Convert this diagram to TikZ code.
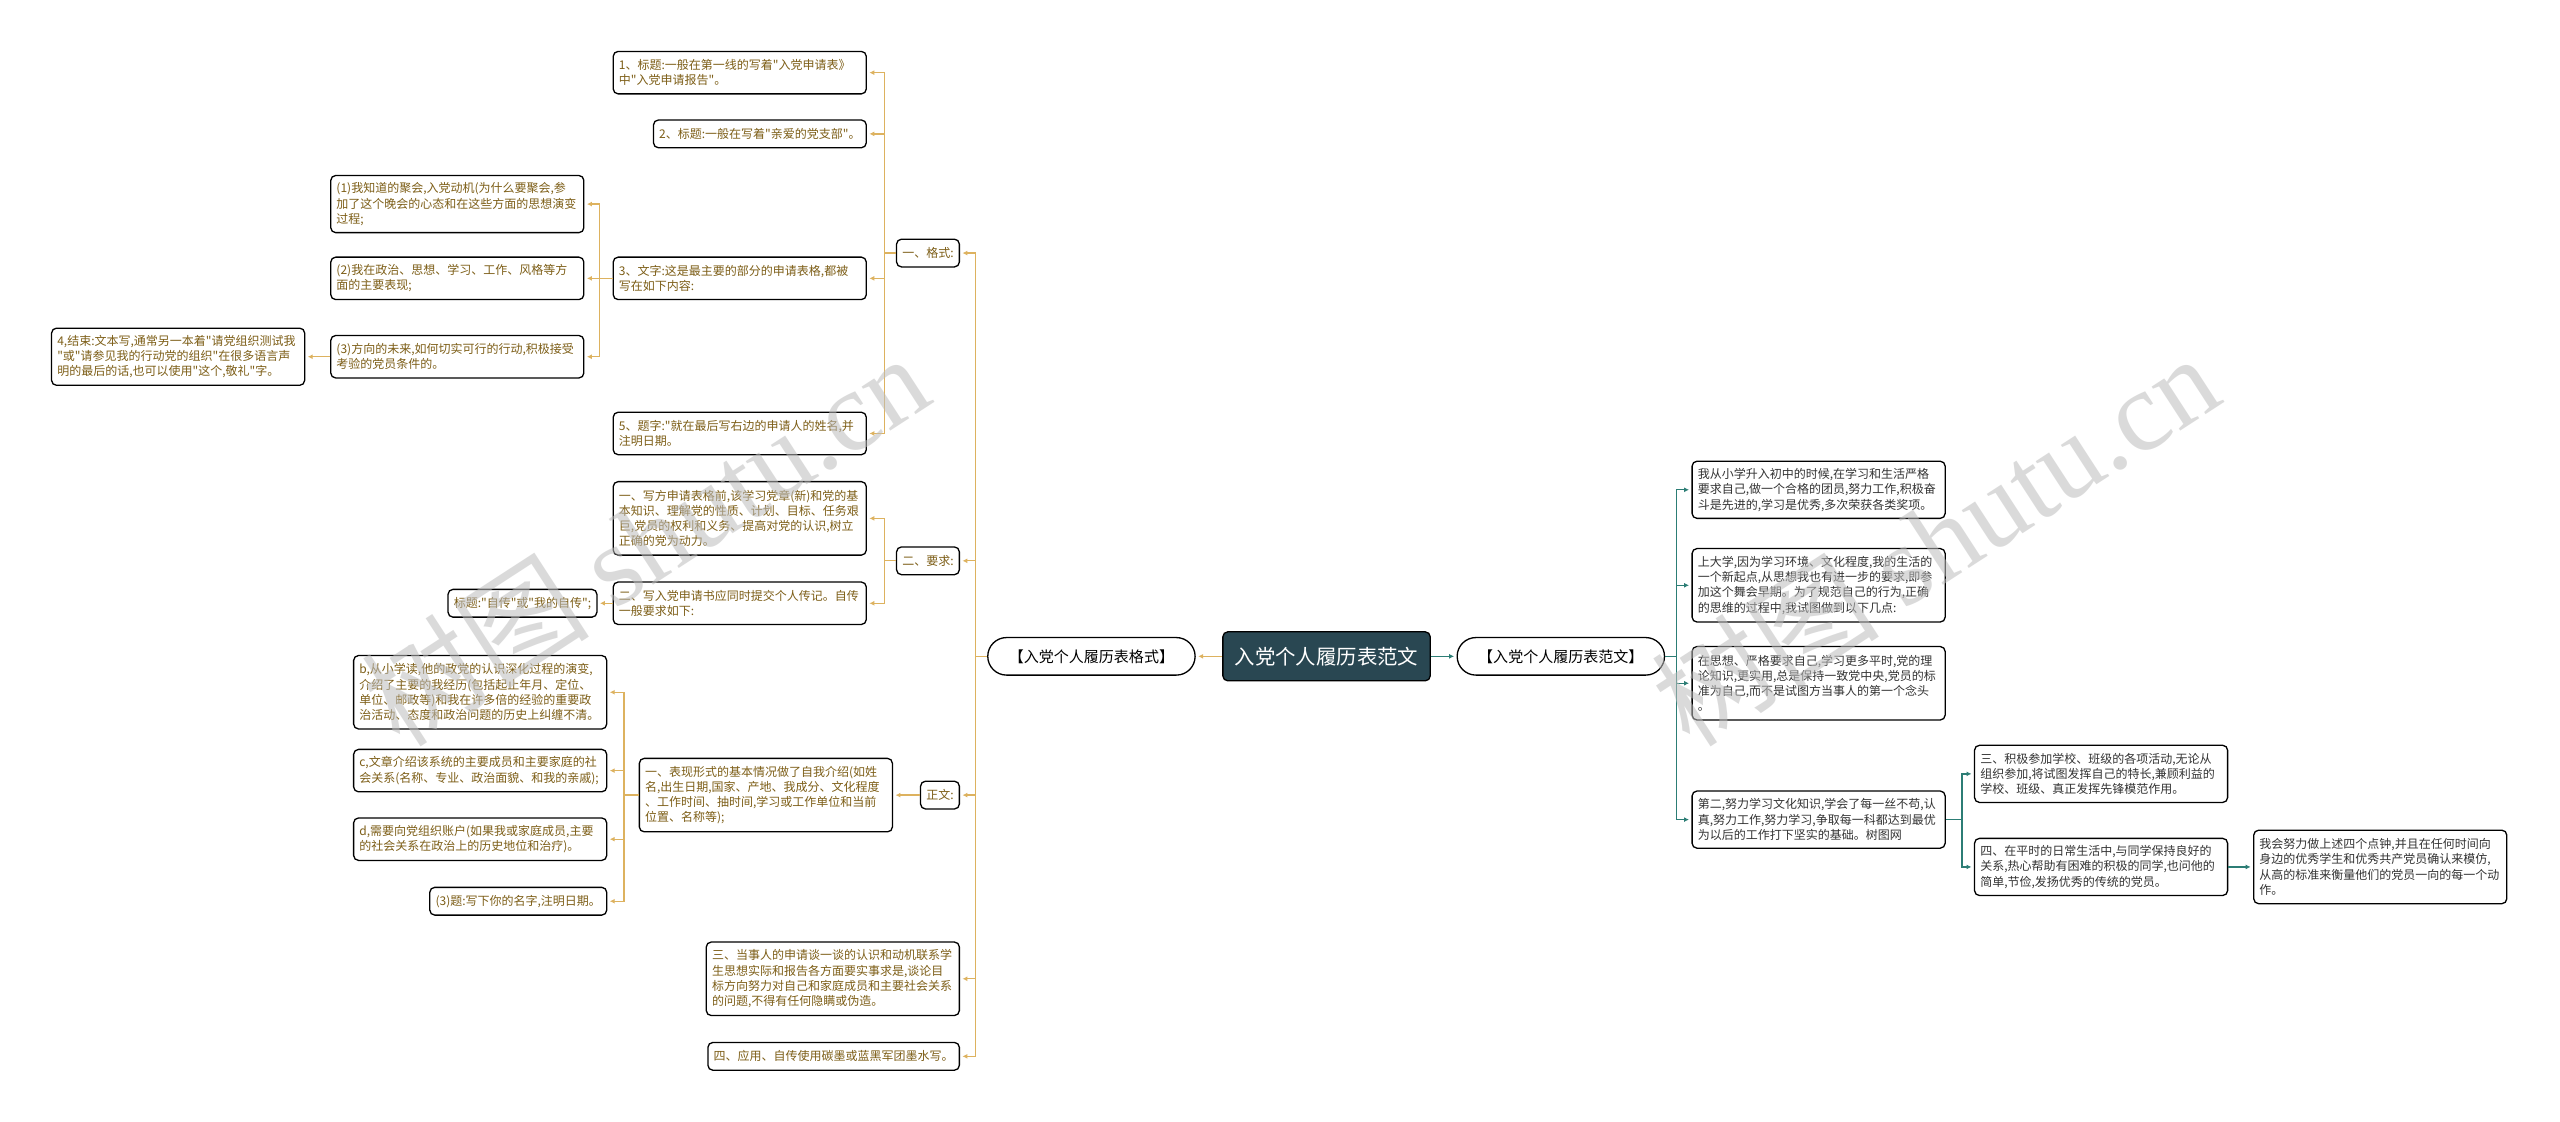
\documentclass[tikz,border=0pt]{standalone}
\usepackage{fontspec}
\setmainfont{Noto Sans CJK SC}[Ligatures=TeXOff]
\newfontfamily\wmlatin{Liberation Serif}
\usetikzlibrary{arrows.meta}
\definecolor{gold}{HTML}{DDB25F}
\definecolor{brownt}{HTML}{7D5E17}
\definecolor{tealc}{HTML}{2C7D75}
\definecolor{darkt}{HTML}{333333}
\definecolor{rootf}{HTML}{294752}
\definecolor{wmc}{HTML}{BDBDBD}
\begin{document}
\begin{tikzpicture}[x=1pt,y=-1pt,
  base/.style={draw=black, line width=0.8pt, rounded corners=3pt, fill=white, inner xsep=3.5pt, inner ysep=1pt, align=left, font=\fontsize{7.35pt}{9.35pt}\selectfont},
  lb/.style={base, text=brownt, anchor=east},
  rb/.style={base, text=darkt, anchor=west},
  tw/.style={text width=148pt},
  pill/.style={draw=black, line width=0.8pt, fill=white, rounded corners=11.5pt, minimum width=127pt, minimum height=23pt, inner sep=0pt, font=\fontsize{9.2pt}{11pt}\selectfont},
  rootn/.style={draw=black, line width=0.8pt, fill=rootf, text=white, rounded corners=3pt, minimum width=127pt, minimum height=30pt, inner sep=0pt, font=\fontsize{12.5pt}{14pt}\selectfont},
  gl/.style={draw=gold, line width=0.8pt, -{Latex[length=3pt,width=3pt]}, shorten >=1.5pt},
  tl/.style={draw=tealc, line width=0.8pt, -{Latex[length=3pt,width=3pt]}, shorten >=1.5pt},
  wmark/.style={text=wmc, opacity=0.55, rotate=33, inner sep=0pt, font=\fontsize{70pt}{70pt}\selectfont}
]
\useasboundingbox[fill=white] (0,0) rectangle (1568,687);

% root and main branches
\node[rootn] (root) at (812.5,402) {入党个人履历表范文};
\node[pill] (lp) at (668.5,402) {【入党个人履历表格式】};
\node[pill] (rp) at (956,402) {【入党个人履历表范文】};

% left side, level 1
\node[lb, minimum height=17pt] (g1) at (588,155) {一、格式:};
\node[lb, minimum height=17pt] (g2) at (588,343.5) {二、要求:};
\node[lb, minimum height=17pt] (g3) at (588,487) {正文:};
\node[lb, tw, minimum height=45pt] (g4) at (588,599.5) {三、当事人的申请谈一谈的认识和动机联系学\\生思想实际和报告各方面要实事求是,谈论目\\标方向努力对自己和家庭成员和主要社会关系\\的问题,不得有任何隐瞒或伪造。};
\node[lb, minimum height=17pt] (g5) at (588,647) {四、应用、自传使用碳墨或蓝黑军团墨水写。};

% 一、格式 children
\node[lb, tw, minimum height=26pt] (n1) at (531,44.5) {1、标题:一般在第一线的写着"入党申请表》\\中"入党申请报告"。};
\node[lb, minimum height=17pt] (n2) at (531,82) {2、标题:一般在写着"亲爱的党支部"。};
\node[lb, tw, minimum height=26pt] (n3) at (531,170.5) {3、文字:这是最主要的部分的申请表格,都被\\写在如下内容:};
\node[lb, tw, minimum height=26pt] (n5) at (531,265.5) {5、题字:"就在最后写右边的申请人的姓名,并\\注明日期。};

\node[lb, tw, minimum height=35pt] (n31) at (358,125) {(1)我知道的聚会,入党动机(为什么要聚会,参\\加了这个晚会的心态和在这些方面的思想演变\\过程;};
\node[lb, tw, minimum height=26pt] (n32) at (358,170.5) {(2)我在政治、思想、学习、工作、风格等方\\面的主要表现;};
\node[lb, tw, minimum height=26pt] (n33) at (358,218.5) {(3)方向的未来,如何切实可行的行动,积极接受\\考验的党员条件的。};
\node[lb, tw, minimum height=35pt] (n331) at (187,218.5) {4,结束:文本写,通常另一本着"请党组织测试我\\"或"请参见我的行动党的组织"在很多语言声\\明的最后的话,也可以使用"这个,敬礼"字。};

% 二、要求 children
\node[lb, tw, minimum height=45pt] (r1) at (531,317.5) {一、写方申请表格前,该学习党章(新)和党的基\\本知识、理解党的性质、计划、目标、任务艰\\巨,党员的权利和义务、提高对党的认识,树立\\正确的党为动力。};
\node[lb, tw, minimum height=26pt] (r2) at (531,369.5) {二、写入党申请书应同时提交个人传记。自传\\一般要求如下:};
\node[lb, minimum height=17pt] (r21) at (366,369.5) {标题:"自传"或"我的自传";};

% 正文 children
\node[lb, tw, minimum height=45pt] (z1) at (547,487) {一、表现形式的基本情况做了自我介绍(如姓\\名,出生日期,国家、产地、我成分、文化程度\\、工作时间、抽时间,学习或工作单位和当前\\位置、名称等);};
\node[lb, tw, minimum height=45pt] (zb) at (372,424) {b,从小学读,他的政党的认识深化过程的演变,\\介绍了主要的我经历(包括起止年月、定位、\\单位、邮政等)和我在许多倍的经验的重要政\\治活动、态度和政治问题的历史上纠缠不清。};
\node[lb, tw, minimum height=26pt] (zc) at (372,472) {c,文章介绍该系统的主要成员和主要家庭的社\\会关系(名称、专业、政治面貌、和我的亲戚);};
\node[lb, tw, minimum height=26pt] (zd) at (372,514) {d,需要向党组织账户(如果我或家庭成员,主要\\的社会关系在政治上的历史地位和治疗)。};
\node[lb, minimum height=17pt] (ze) at (372,552) {(3)题:写下你的名字,注明日期。};

% right side
\node[rb, tw, minimum height=35pt] (ra) at (1036,300) {我从小学升入初中的时候,在学习和生活严格\\要求自己,做一个合格的团员,努力工作,积极奋\\斗是先进的,学习是优秀,多次荣获各类奖项。};
\node[rb, tw, minimum height=45pt] (rbn) at (1036,358.5) {上大学,因为学习环境、文化程度,我的生活的\\一个新起点,从思想我也有进一步的要求,即参\\加这个舞会早期。为了规范自己的行为,正确\\的思维的过程中,我试图做到以下几点:};
\node[rb, tw, minimum height=45pt] (rc) at (1036,418.5) {在思想、严格要求自己,学习更多平时,党的理\\论知识,更实用,总是保持一致党中央,党员的标\\准为自己,而不是试图方当事人的第一个念头\\。};
\node[rb, tw, minimum height=35pt] (rd) at (1036,502) {第二,努力学习文化知识,学会了每一丝不苟,认\\真,努力工作,努力学习,争取每一科都达到最优\\为以后的工作打下坚实的基础。树图网};
\node[rb, tw, minimum height=35pt] (re) at (1209,474) {三、积极参加学校、班级的各项活动,无论从\\组织参加,将试图发挥自己的特长,兼顾利益的\\学校、班级、真正发挥先锋模范作用。};
\node[rb, tw, minimum height=35pt] (rf) at (1209,531) {四、在平时的日常生活中,与同学保持良好的\\关系,热心帮助有困难的积极的同学,也问他的\\简单,节俭,发扬优秀的传统的党员。};
\node[rb, tw, minimum height=45pt] (rg) at (1380,531) {我会努力做上述四个点钟,并且在任何时间向\\身边的优秀学生和优秀共产党员确认来模仿,\\从高的标准来衡量他们的党员一向的每一个动\\作。};

% connectors left
\draw[gl] (root.west) -- (lp.east);
\foreach \c in {g1,g2,g3,g4,g5} \draw[gl] (lp.west) -- ++(-7,0) |- (\c.east);
\foreach \c in {n1,n2,n3,n5} \draw[gl] (g1.west) -- ++(-7,0) |- (\c.east);
\foreach \c in {n31,n32,n33} \draw[gl] (n3.west) -- ++(-8,0) |- (\c.east);
\draw[gl] (n33.west) -- (n331.east);
\foreach \c in {r1,r2} \draw[gl] (g2.west) -- ++(-7,0) |- (\c.east);
\draw[gl] (r2.west) -- (r21.east);
\draw[gl] (g3.west) -- (z1.east);
\foreach \c in {zb,zc,zd,ze} \draw[gl] (z1.west) -- ++(-9,0) |- (\c.east);

% connectors right
\draw[tl] (root.east) -- (rp.west);
\foreach \c in {ra,rbn,rc,rd} \draw[tl] (rp.east) -- ++(7,0) |- (\c.west);
\foreach \c in {re,rf} \draw[tl] (rd.east) -- ++(10,0) |- (\c.west);
\draw[tl] (rf.east) -- (rg.west);

% watermarks
\node[wmark] (wm1) at (395,330) {树图 {\wmlatin shutu.cn}};
\node[wmark] (wm2) at (1185,330) {树图 {\wmlatin shutu.cn}};
\end{tikzpicture}
\end{document}
